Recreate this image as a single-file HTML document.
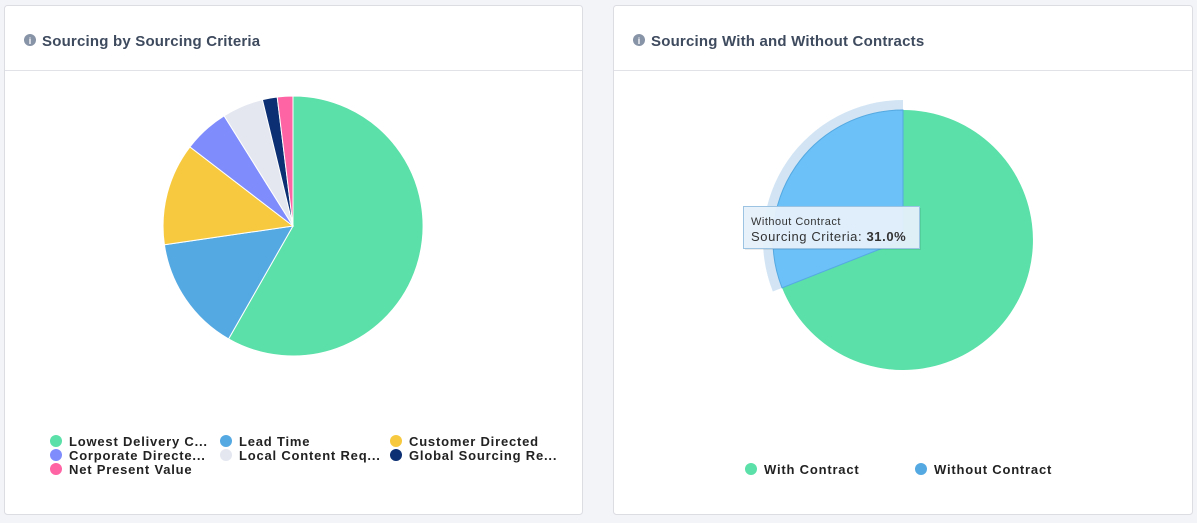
<!DOCTYPE html>
<html><head><meta charset="utf-8"><style>
body{margin:0;background:#f3f4f8;width:1197px;height:518px;overflow:hidden;font-family:"Liberation Sans",sans-serif}
</style></head><body>
<svg width="1197" height="518" xmlns="http://www.w3.org/2000/svg" font-family="Liberation Sans, sans-serif">
<rect x="4.5" y="5.5" width="578" height="509" rx="3" fill="#fff" stroke="#dcdde3"/>
<rect x="613.5" y="5.5" width="579" height="509" rx="3" fill="#fff" stroke="#dcdde3"/>
<line x1="5" y1="70.5" x2="582" y2="70.5" stroke="#e1e2e8"/>
<line x1="614" y1="70.5" x2="1192" y2="70.5" stroke="#e1e2e8"/>
<circle cx="30" cy="40" r="6" fill="#8793a6"/><text x="30" y="44" font-size="9" font-weight="bold" fill="#fff" text-anchor="middle">i</text>
<text x="42" y="46" font-size="15" font-weight="bold" fill="#3e4a5e" letter-spacing="0.2">Sourcing by Sourcing Criteria</text>
<circle cx="639" cy="40" r="6" fill="#8793a6"/><text x="639" y="44" font-size="9" font-weight="bold" fill="#fff" text-anchor="middle">i</text>
<text x="651" y="46" font-size="15" font-weight="bold" fill="#3e4a5e" letter-spacing="0.2">Sourcing With and Without Contracts</text>
<g stroke="#fff" stroke-width="1">
<path d="M293,226 L293,96 A130,130 0 1 1 228.6,338.9Z" fill="#5ae0a8"/>
<path d="M293,226 L228.6,338.9 A130,130 0 0 1 164.4,244.8Z" fill="#55a9e2"/>
<path d="M293,226 L164.4,244.8 A130,130 0 0 1 189.9,146.9Z" fill="#f6c93f"/>
<path d="M293,226 L189.9,146.9 A130,130 0 0 1 224.1,115.8Z" fill="#7f8cfc"/>
<path d="M293,226 L224.1,115.8 A130,130 0 0 1 262.4,99.6Z" fill="#e4e7f0"/>
<path d="M293,226 L262.4,99.6 A130,130 0 0 1 277.2,97Z" fill="#0b2f72"/>
<path d="M293,226 L277.2,97 A130,130 0 0 1 293,96Z" fill="#fe63a4"/>
</g>
<path d="M903,100 L903,110 A130,130 0 0 0 782.1,287.9 L772.8,291.5 A140,140 0 0 1 903,100Z" fill="#d3e5f4"/>
<path d="M903,240 L903,110 A130,130 0 1 1 782.1,287.9Z" fill="#5ae0a8"/>
<path d="M903,240 L782.1,287.9 A130,130 0 0 1 903,110Z" fill="#6cc1f8" stroke="#55a9e2" stroke-width="1"/>
<rect x="745" y="208" width="176" height="42" fill="#000" fill-opacity="0.08"/>
<rect x="743.5" y="206.5" width="176" height="42" fill="#e6f1fb" fill-opacity="0.95" stroke="#9cc3e2"/>
<text x="751" y="225" font-size="11" fill="#333" letter-spacing="0.5">Without Contract</text>
<text x="751" y="241" font-size="13" fill="#333" letter-spacing="0.6">Sourcing Criteria: <tspan font-weight="bold">31.0%</tspan></text>
<g font-size="13" font-weight="bold" fill="#222" letter-spacing="0.8">
<circle cx="56" cy="441" r="6" fill="#5ae0a8"/><text x="69" y="446">Lowest Delivery C...</text>
<circle cx="226" cy="441" r="6" fill="#55a9e2"/><text x="239" y="446">Lead Time</text>
<circle cx="396" cy="441" r="6" fill="#f6c93f"/><text x="409" y="446">Customer Directed</text>
<circle cx="56" cy="455" r="6" fill="#7f8cfc"/><text x="69" y="460">Corporate Directe...</text>
<circle cx="226" cy="455" r="6" fill="#e4e7f0"/><text x="239" y="460">Local Content Req...</text>
<circle cx="396" cy="455" r="6" fill="#0b2f72"/><text x="409" y="460">Global Sourcing Re...</text>
<circle cx="56" cy="469" r="6" fill="#fe63a4"/><text x="69" y="474">Net Present Value</text>
<circle cx="751" cy="469" r="6" fill="#5ae0a8"/><text x="764" y="474">With Contract</text>
<circle cx="921" cy="469" r="6" fill="#55a9e2"/><text x="934" y="474">Without Contract</text>
</g>
</svg>
</body></html>
